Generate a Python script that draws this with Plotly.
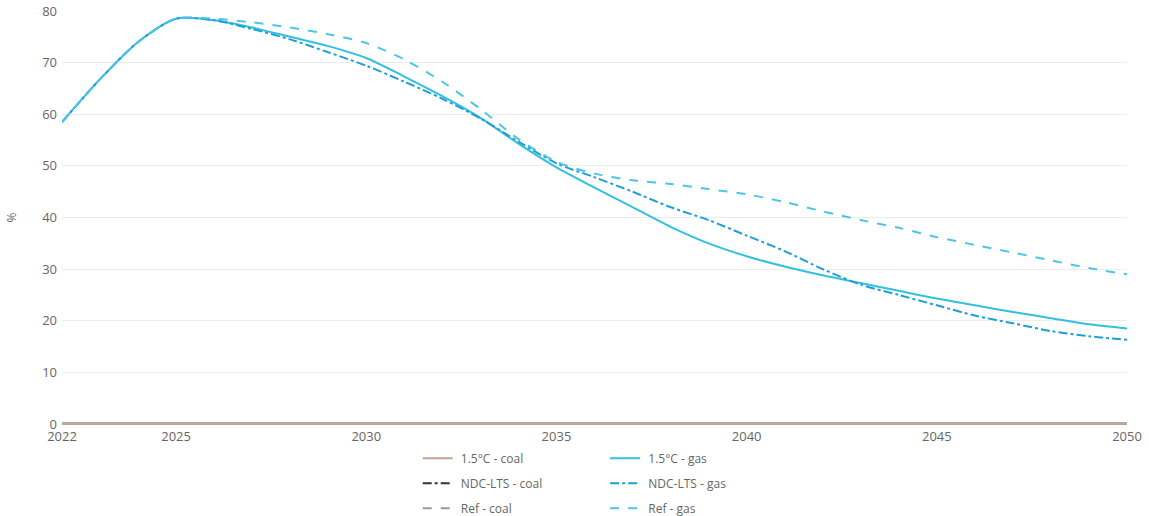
import plotly.graph_objects as go

years = list(range(2022, 2051))

coal_15 = [0.2] * len(years)
coal_ndc = [0.2] * len(years)
coal_ref = [0.2] * len(years)

gas_15 = [58.5, 66.8, 74.0, 78.5, 78.2, 76.8, 75.0, 73.2, 70.9, 67.3, 63.5, 59.3, 54.3, 49.7,
          45.8, 42.0, 38.2, 35.0, 32.5, 30.5, 28.8, 27.3, 25.8, 24.3, 23.0, 21.7, 20.5, 19.3, 18.5]
gas_ndc = [58.5, 66.8, 74.0, 78.5, 78.2, 76.5, 74.5, 72.0, 69.4, 66.3, 63.0, 59.2, 54.7, 50.5,
           47.8, 45.0, 42.0, 39.5, 36.5, 33.5, 30.0, 27.0, 25.0, 23.0, 21.0, 19.5, 18.0, 17.0, 16.3]
gas_ref = [58.5, 66.8, 74.0, 78.5, 78.5, 77.8, 76.8, 75.5, 73.8, 70.6, 66.3, 61.0, 55.2, 50.8,
           48.5, 47.2, 46.5, 45.5, 44.5, 43.0, 41.2, 39.5, 38.0, 36.2, 34.7, 33.2, 31.7, 30.2, 29.0]

# (name, values, colour, dash, legend, legend rank); drawn in list order
series = [
    ("NDC-LTS - coal", coal_ndc, "#333333", "dashdot", "legend", 2),
    ("Ref - coal", coal_ref, "#9a9a9a", "dash", "legend", 3),
    ("1.5°C - coal", coal_15, "#c4a596", "solid", "legend", 1),
    ("1.5°C - gas", gas_15, "#33bfe0", "solid", "legend2", 1),
    ("NDC-LTS - gas", gas_ndc, "#1f9fd6", "dashdot", "legend2", 2),
    ("Ref - gas", gas_ref, "#4cc6e8", "dash", "legend2", 3),
]

fig = go.Figure()
for i, (name, vals, color, dash, leg, rank) in enumerate(series):
    fig.add_trace(go.Scatter(
        x=years, y=vals, name="\u00a0" + name, mode="lines",
        line=dict(color=color, width=2, dash=dash, shape="spline", smoothing=0.8),
        legend=leg, legendgroup="g%d" % i, legendrank=rank,
    ))

legend_style = dict(y=-0.048, xanchor="left", yanchor="top", orientation="v",
                    font=dict(size=12, color="#666666"), tracegroupgap=6, itemwidth=30)

fig.update_layout(
    width=1149, height=516,
    margin=dict(l=62, r=22, t=11, b=92, autoexpand=False),
    paper_bgcolor="white", plot_bgcolor="white",
    font=dict(family="Open Sans, DejaVu Sans, sans-serif", size=12, color="#555555"),
    xaxis=dict(range=[2022, 2050], tickvals=[2022, 2025, 2030, 2035, 2040, 2045, 2050],
               showgrid=False, showline=True, linecolor="#aaaaaa", ticks="",
               zeroline=False, automargin=False, tickfont=dict(size=13, color="#666666")),
    yaxis=dict(range=[0, 80], tickvals=[0, 10, 20, 30, 40, 50, 60, 70, 80],
               showgrid=True, gridcolor="#ececec", zeroline=False, automargin=False,
               ticklabelstandoff=4,
               tickfont=dict(size=13, color="#666666")),
    legend=dict(x=0.334, **legend_style),
    legend2=dict(x=0.51, **legend_style),
    showlegend=True,
    annotations=[dict(text="%", xref="paper", yref="paper", x=-0.047, y=0.5,
                      xanchor="center", yanchor="middle",
                      textangle=-90, showarrow=False,
                      font=dict(size=12, color="#666666"))],
)

fig.write_html("out.html", config={"displayModeBar": False},
               post_script="document.body.style.margin='0';")
